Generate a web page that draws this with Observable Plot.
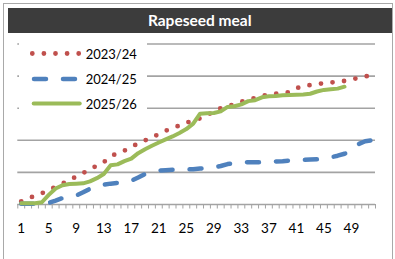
<!DOCTYPE html>
<html>
<head>
<meta charset="utf-8">
<script src="https://cdn.jsdelivr.net/npm/d3@7"></script>
<script src="https://cdn.jsdelivr.net/npm/@observablehq/plot@0.6"></script>
<style>
  body { margin: 0; background: #fff; }
  #wrap { position: relative; width: 395px; height: 259px; overflow: hidden; background: #fff; font-family: Lato, "Open Sans", "Liberation Sans", sans-serif; }
  #frame { position: absolute; left: 3px; top: 3px; width: 390px; height: 300px; border: 1.5px solid #a9a9a9; box-sizing: border-box; }
  #title { position: absolute; left: 8px; top: 8px; width: 383.5px; height: 25px; background: #3c3c3c; color: #fff; font-weight: bold; font-size: 15.5px; line-height: 25px; text-align: center; }
  #chart { position: absolute; left: 0; top: 0; }
  #legend { position: absolute; left: 19px; top: 36px; width: 128px; height: 80px; background: #fff; }
</style>
</head>
<body>
<div id="wrap">
  <div id="frame"></div>
  <div id="title">Rapeseed meal</div>
  <div id="chart"></div>
  <div id="legend"></div>
</div>
<script>
// ---- data (weekly cumulative values) ----
const weeks = d3.range(1, 53);
const seriesNames = ["2023/24", "2024/25", "2025/26"];
const s2023 = [10, 18, 28, 35, 45, 55, 65, 76, 87, 98, 110, 121, 132, 150, 160, 168, 180, 190, 200, 208,
               220, 230, 238, 246, 254, 263, 268, 278, 290, 300, 306, 312, 320, 326, 332, 338, 343, 345, 348, 350,
               362, 369, 372, 375, 378, 380, 382, 385, 390, 394, 399, 403];
const s2024 = [2, 2, 2, 3, 5, 12, 20, 25, 28, 38, 49, 58, 62, 65, 67, 70, 74, 84, 95, 101,
               106, 107, 108, 108, 109, 110, 112, 114, 116, 120, 126, 129, 131, 132, 132, 132, 133, 134, 135, 137,
               138, 139, 140, 141, 143, 147, 152, 158, 168, 188, 197, 200];
const s2025 = [4, 4, 4, 7, 30, 50, 60, 64, 65, 66, 72, 82, 95, 122, 125, 135, 143, 160, 172, 183,
               193, 203, 212, 223, 235, 252, 283, 284, 285, 290, 304, 306, 312, 322, 325, 334, 337, 338, 340, 341,
               342, 343, 345, 352, 357, 359, 361, 367];
const gridValues = [0, 100, 200, 300, 400, 500];
const tickLabels = [1, 5, 9, 13, 17, 21, 25, 29, 33, 37, 41, 45, 49];
const colors = ["#C0504D", "#4F81BD", "#9BBB59"];

const seriesValues = [s2023, s2024, s2025];
const rows = seriesValues.flatMap((vals, i) =>
  vals.map((v, j) => ({ week: weeks[j], value: v, series: seriesNames[i] })));
const boundaries = d3.range(0, 53).map(d => d + 0.5);

const styles = {
  "2023/24": { stroke: colors[0], strokeWidth: 4.8, strokeDasharray: "0,11.6", strokeLinecap: "round" },
  "2024/25": { stroke: colors[1], strokeWidth: 4.5, strokeDasharray: "12,17", strokeLinecap: "round" },
  "2025/26": { stroke: colors[2], strokeWidth: 4, strokeLinecap: "round" }
};

const chart = Plot.plot({
  width: 395,
  height: 259,
  marginLeft: 17.3,
  marginRight: 20,
  marginTop: 43.5,
  marginBottom: 55,
  x: { domain: [0.5, 52.5] },
  y: { domain: [0, 500], axis: null },
  style: { background: "transparent", color: "#000", fontFamily: 'Lato, "Open Sans", "Liberation Sans", sans-serif', fontSize: "13px" },
  marks: [
    Plot.ruleY(gridValues, { stroke: "#a3a3a3", strokeWidth: 1.6 }),
    Plot.axisX(boundaries, { tickSize: 4.5, tickFormat: () => "", stroke: "#a3a3a3", strokeWidth: 1, label: null }),
    Plot.axisX(tickLabels, { tickSize: 0, tickPadding: 19, fontSize: 13.5, label: null }),
    ...seriesNames.map(name =>
      Plot.line(rows.filter(r => r.series === name), { x: "week", y: "value", ...styles[name] }))
  ]
});
document.getElementById("chart").appendChild(chart);

// ---- legend ----
const lg = d3.select("#legend").append("svg").attr("width", 128).attr("height", 80)
  .style("font-family", 'Lato, "Open Sans", "Liberation Sans", sans-serif').style("font-size", "13px");
const legendRows = [
  { name: seriesNames[0], y: 17.5, x1: 13.3, x2: 60 },
  { name: seriesNames[1], y: 43, x1: 15, x2: 56 },
  { name: seriesNames[2], y: 67.5, x1: 14.7, x2: 60.7 }
];
legendRows.forEach(r => {
  const st = styles[r.name];
  lg.append("line").attr("x1", r.x1).attr("x2", r.x2).attr("y1", r.y).attr("y2", r.y)
    .attr("stroke", st.stroke).attr("stroke-width", st.strokeWidth)
    .attr("stroke-dasharray", st.strokeDasharray || null).attr("stroke-linecap", st.strokeLinecap);
  lg.append("text").attr("x", 66.7).attr("y", r.y + 0.5).attr("dy", "0.36em").attr("fill", "#000").text(r.name);
});
</script>
</body>
</html>
